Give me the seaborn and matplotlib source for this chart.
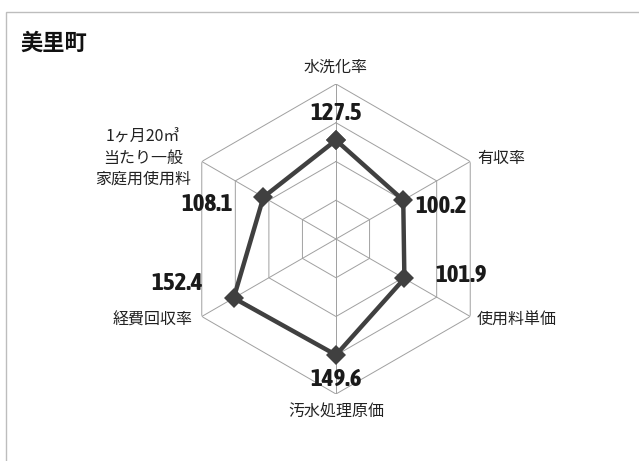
import numpy as np
import pandas as pd
import matplotlib
matplotlib.use("Agg")
import matplotlib.pyplot as plt
import seaborn as sns
from matplotlib import font_manager
from matplotlib.patches import Rectangle

sns.set_theme(style="white")
plt.rcParams['font.family'] = ['Noto Sans CJK JP', 'DejaVu Sans']

# data
title = "美里町"
categories = ["水洗化率", "有収率", "使用料単価", "汚水処理原価", "経費回収率",
              "1ヶ月20㎥\n当たり一般\n家庭用使用料"]
values = [127.5, 100.2, 101.9, 149.6, 152.4, 108.1]
value_labels = ["127.5", "100.2", "101.9", "149.6", "152.4", "108.1"]
rings = [50, 100, 150, 200]


def weight_num(w):
    if isinstance(w, (int, float)):
        return w
    return font_manager.weight_dict.get(w, 400)


# pick a bold narrow font for the numbers if one is installed
num_font = dict(family=["Liberation Sans", "DejaVu Sans"], fontsize=15.5)
for f in font_manager.fontManager.ttflist:
    if ("Narrow" in f.name or "Condensed" in f.name) and weight_num(f.weight) >= 600:
        num_font = dict(family=[f.name, "DejaVu Sans"], fontsize=18)
        break

n = len(categories)
theta = np.arange(n) * 2 * np.pi / n

fig = plt.figure(figsize=(6.39, 4.61), dpi=100)
fig.patch.set_facecolor("white")

# outer frame
fig.patches.append(Rectangle((6 / 639, -0.1), 1.2, 1.1 - 12 / 461,
                             transform=fig.transFigure, fill=False,
                             edgecolor="#bdbdbd", linewidth=1.0))
fig.text(20 / 639, 1 - 43 / 461, title, fontsize=16, fontweight="bold",
         va="center", ha="left", color="#111111")

cx, cy, R = 336, 239, 155
ax = fig.add_axes([(cx - R) / 639, (461 - cy - R) / 461, 2 * R / 639, 2 * R / 461],
                  projection="polar")
ax.set_theta_zero_location("N")
ax.set_theta_direction(-1)
ax.grid(False)
ax.spines["polar"].set_visible(False)
ax.set_xticks([])
ax.set_yticks([])
ax.patch.set_alpha(0)

# hexagon grid and spokes
closed_theta = np.append(theta, theta[0])
for r in rings:
    ax.plot(closed_theta, [r] * (n + 1), color="#a0a0a0", lw=0.7, zorder=1)
for t in theta:
    ax.plot([t, t], [0, rings[-1]], color="#a0a0a0", lw=0.7, zorder=1)

df = pd.DataFrame({"theta": closed_theta, "value": values + [values[0]]})
sns.lineplot(data=df, x="theta", y="value", sort=False, estimator=None,
             color="#404040", lw=3.2, marker="D", markersize=10,
             markeredgewidth=0, ax=ax, zorder=3)
ax.set_xlabel("")
ax.set_ylabel("")
ax.set_ylim(0, rings[-1])

# value labels (offsets in points from each marker)
val_off = [(0, 19.5, "center"), (8.4, -4.9, "left"), (22, 2, "left"),
           (0, -18, "center"), (-22, 10.8, "right"), (-22, -5, "right")]
for t, v, lab, (dx, dy, ha) in zip(theta, values, value_labels, val_off):
    ax.annotate(lab, xy=(t, v), xytext=(dx, dy), textcoords="offset points",
                ha=ha, va="center", fontweight="bold", color="#1a1a1a",
                annotation_clip=False, **num_font)

# category labels (offsets in points from outer vertices)
cat_off = [(0, 12.2, "center"), (4.9, 2.3, "left"), (4.9, -3, "left"),
           (0, -12.8, "center"), (-6.3, -2.3, "right"), (-42.3, 2.4, "center")]
for t, lab, (dx, dy, ha) in zip(theta, categories, cat_off):
    ax.annotate(lab, xy=(t, rings[-1]), xytext=(dx, dy), textcoords="offset points",
                ha=ha, va="center", fontsize=11.5, color="#222222",
                multialignment="center", linespacing=1.3, annotation_clip=False)

fig.savefig("out.png", dpi=100)
